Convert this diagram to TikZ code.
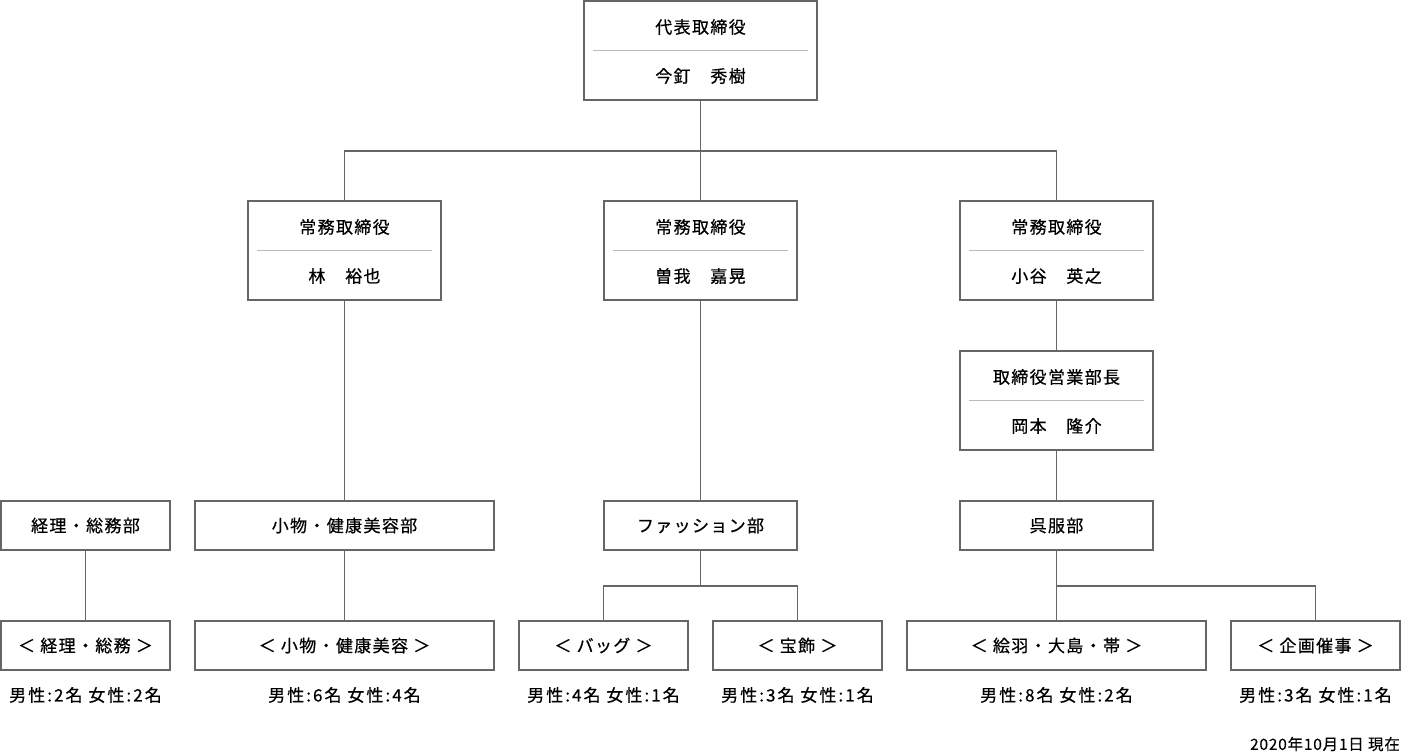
\documentclass[tikz,border=0pt]{standalone}
\usepackage{fontspec}
\setmainfont[LetterSpace=8,FakeBold=0.6]{Noto Sans CJK JP}
\newfontfamily\datefont[LetterSpace=5,FakeBold=0.4]{Noto Sans CJK JP}
\newfontfamily\statfont[LetterSpace=12,FakeBold=0.6]{Noto Sans CJK JP}
\definecolor{linegray}{HTML}{666666}
\definecolor{sepgray}{HTML}{BBBBBB}
\begin{document}
\begin{tikzpicture}[x=1pt,y=-1pt,
	box/.style={draw=linegray,line width=1.2pt,fill=white,inner sep=0pt},
	bigbox/.style={box,minimum width=#1,minimum height=99pt},
	smallbox/.style={box,minimum width=#1,minimum height=49pt,font=\fontsize{17}{20}\selectfont},
	label/.style={font=\fontsize{17}{20}\selectfont,inner sep=0pt},
	stats/.style={font=\statfont\fontsize{17}{20}\selectfont,inner sep=0pt},
	sep/.style={draw=sepgray,line width=1pt},
	wire/.style={draw=linegray,line width=1.2pt}]
	\useasboundingbox (0,0) rectangle (1402,755);

	% officers
	\node[bigbox=233pt] (ceo) at (700.5,50.5) {};
	\node[label] (ceot) at (700.5,27) {代表取締役};
	\node[label] (ceon) at (700.5,76) {今釘　秀樹};
	\draw[sep] ([xshift=10pt]ceo.west) -- ([xshift=-10pt]ceo.east);

	\node[bigbox=193pt] (dira) at (344.5,250.5) {};
	\node[label] (dirat) at (344.5,227) {常務取締役};
	\node[label] (diran) at (344.5,276) {林　裕也};
	\draw[sep] ([xshift=10pt]dira.west) -- ([xshift=-10pt]dira.east);

	\node[bigbox=193pt] (dirb) at (700.5,250.5) {};
	\node[label] (dirbt) at (700.5,227) {常務取締役};
	\node[label] (dirbn) at (700.5,276) {曽我　嘉晃};
	\draw[sep] ([xshift=10pt]dirb.west) -- ([xshift=-10pt]dirb.east);

	\node[bigbox=193pt] (dirc) at (1056.5,250.5) {};
	\node[label] (dirct) at (1056.5,227) {常務取締役};
	\node[label] (dircn) at (1056.5,276) {小谷　英之};
	\draw[sep] ([xshift=10pt]dirc.west) -- ([xshift=-10pt]dirc.east);

	\node[bigbox=193pt] (mgr) at (1056.5,400.5) {};
	\node[label] (mgrt) at (1056.5,377) {取締役営業部長};
	\node[label] (mgrn) at (1056.5,426) {岡本　隆介};
	\draw[sep] ([xshift=10pt]mgr.west) -- ([xshift=-10pt]mgr.east);

	% departments
	\node[smallbox=169pt] (keiri) at (85.5,525.5) {経理・総務部};
	\node[smallbox=299pt] (komono) at (344.5,525.5) {小物・健康美容部};
	\node[smallbox=193pt] (fashion) at (700.5,525.5) {ファッション部};
	\node[smallbox=193pt] (gofuku) at (1056.5,525.5) {呉服部};

	% sections
	\node[smallbox=169pt] (keirib) at (85.5,645.5) {＜ 経理・総務 ＞};
	\node[smallbox=299pt] (komonob) at (344.5,645.5) {＜ 小物・健康美容 ＞};
	\node[smallbox=169pt] (bag) at (603.5,645.5) {＜ バッグ ＞};
	\node[smallbox=169pt] (hoshoku) at (797.5,645.5) {＜ 宝飾 ＞};
	\node[smallbox=299pt] (eba) at (1056.5,645.5) {＜ 絵羽・大島・帯 ＞};
	\node[smallbox=169pt] (kikaku) at (1315.5,645.5) {＜ 企画催事 ＞};

	% staff numbers
	\node[stats] (keiris) at (85.5,695) {男性:2名 女性:2名};
	\node[stats] (komonos) at (344.5,695) {男性:6名 女性:4名};
	\node[stats] (bags) at (603.5,695) {男性:4名 女性:1名};
	\node[stats] (hoshokus) at (797.5,695) {男性:3名 女性:1名};
	\node[stats] (ebas) at (1056.5,695) {男性:8名 女性:2名};
	\node[stats] (kikakus) at (1315.5,695) {男性:3名 女性:1名};
	\node[inner sep=0pt,anchor=east,font=\datefont\fontsize{15.5}{18}\selectfont] (date) at (1400,744) {2020年10月1日 現在};

	% connectors
	\coordinate (bus) at (700.5,151);
	\coordinate (fbus) at (700.5,586);
	\coordinate (gbus) at (1056.5,586);
	\draw[wire] (ceo.south) -- (bus);
	\draw[wire] (dira.north) |- (bus) -| (dirc.north);
	\draw[wire] (bus) -- (dirb.north);
	\draw[wire] (dira.south) -- (komono.north);
	\draw[wire] (dirb.south) -- (fashion.north);
	\draw[wire] (dirc.south) -- (mgr.north);
	\draw[wire] (mgr.south) -- (gofuku.north);
	\draw[wire] (keiri.south) -- (keirib.north);
	\draw[wire] (komono.south) -- (komonob.north);
	\draw[wire] (fashion.south) -- (fbus);
	\draw[wire] (bag.north) |- (fbus) -| (hoshoku.north);
	\draw[wire] (gofuku.south) -- (eba.north);
	\draw[wire] (gbus) -| (kikaku.north);
\end{tikzpicture}
\end{document}
